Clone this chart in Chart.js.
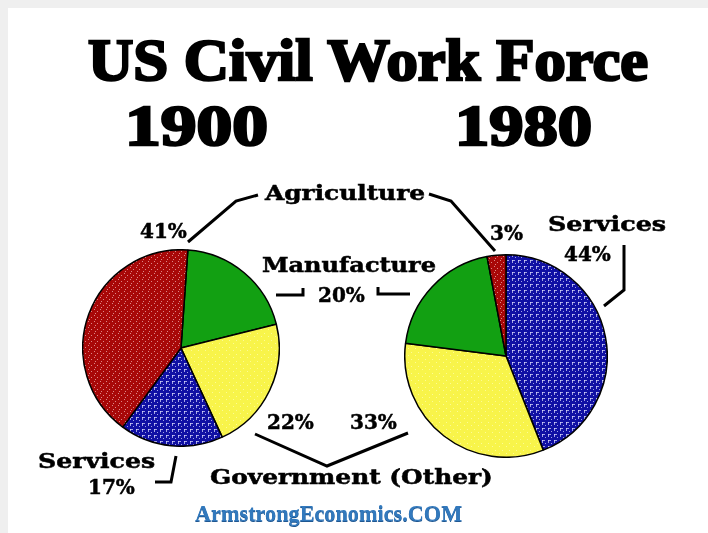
<!DOCTYPE html>
<html lang="en">
<head>
    <meta charset="UTF-8">
    <title>US Civil Work Force</title>
    <style>
        body {
            margin: 0;
            width: 708px;
            height: 533px;
            background-color: #efefef;
            position: relative;
            overflow: hidden;
        }

        #panel {
            position: absolute;
            left: 8px;
            top: 8px;
            right: 0;
            bottom: 0;
            background-color: #ffffff;
        }

        .txt {
            position: absolute;
            white-space: nowrap;
            line-height: 1;
            transform-origin: 0 0;
        }

        .big {
            font-family: "Liberation Serif", serif;
            font-weight: bold;
            color: #000;
            -webkit-text-stroke: 2.5px #000;
        }

        .lbl {
            font-family: "DejaVu Serif", serif;
            font-weight: bold;
            font-size: 20px;
            color: #000;
            -webkit-text-stroke: 0.5px #000;
        }

        canvas.pie {
            position: absolute;
        }

        #lines {
            position: absolute;
            left: 0;
            top: 0;
        }
    </style>
</head>
<body>
    <div id="panel"></div>

    <div class="txt big" id="title" style="left:88px; top:30px; font-size:60px;">US Civil Work Force</div>
    <div class="txt big" id="y1900" style="left:125px; top:98px; font-size:56px;">1900</div>
    <div class="txt big" id="y1980" style="left:455px; top:98px; font-size:56px;">1980</div>

    <canvas class="pie" id="pie1900" width="198" height="198" style="left:82px; top:249px;"></canvas>
    <canvas class="pie" id="pie1980" width="204" height="204" style="left:404px; top:254px;"></canvas>

    <svg id="lines" width="708" height="533">
        <g fill="none" stroke="#000" stroke-width="3" stroke-linejoin="miter">
            <polyline points="188,242 236,201 258,195" />
            <polyline points="429,194 451,201 495,251" />
            <polyline points="276,295 303,295 303,288" />
            <polyline points="378,287 378,294 410,294" />
            <polyline points="624,245 624,290 604,306" />
            <polyline points="255,434 327,466 408,433" />
            <polyline points="176,456 171,482 155,482" />
        </g>
    </svg>

    <div class="txt lbl" id="lAgri" style="left:265px; top:183px;">Agriculture</div>
    <div class="txt lbl" id="p41" style="left:140px; top:221px;">41%</div>
    <div class="txt lbl" id="lManu" style="left:262px; top:255px;">Manufacture</div>
    <div class="txt lbl" id="p20" style="left:318px; top:285px;">20%</div>
    <div class="txt lbl" id="p3" style="left:490px; top:223px;">3%</div>
    <div class="txt lbl" id="lServ2" style="left:548px; top:214px;">Services</div>
    <div class="txt lbl" id="p44" style="left:564px; top:244px;">44%</div>
    <div class="txt lbl" id="p22" style="left:267px; top:412px;">22%</div>
    <div class="txt lbl" id="p33" style="left:350px; top:412px;">33%</div>
    <div class="txt lbl" id="lGov" style="left:210px; top:467px;">Government (Other)</div>
    <div class="txt lbl" id="lServ1" style="left:38px; top:451px;">Services</div>
    <div class="txt lbl" id="p17" style="left:88px; top:477px;">17%</div>

    <div class="txt" id="brand" style="left:195px; top:501px; font-family:'Liberation Serif', serif; font-weight:bold; font-size:24px; color:#3279bd; text-shadow:0 1px 0 #1f5791;">ArmstrongEconomics.COM</div>

    <script src="https://cdn.jsdelivr.net/npm/chart.js"></script>
    <script>
        // data
        const categories1900 = ['Manufacture', 'Government (Other)', 'Services', 'Agriculture'];
        const values1900 = [20, 22, 17, 41];
        const categories1980 = ['Services', 'Government (Other)', 'Manufacture', 'Agriculture'];
        const values1980 = [44, 33, 20, 3];

        // stippled fills like the hand drawn original
        function makePattern(base, dots, dotColor, size) {
            const c = document.createElement('canvas');
            c.width = size;
            c.height = size;
            const g = c.getContext('2d');
            g.fillStyle = base;
            g.fillRect(0, 0, size, size);
            g.fillStyle = dotColor;
            dots.forEach(d => g.fillRect(d[0], d[1], d[2] || 1, d[3] || 1));
            return g.createPattern(c, 'repeat');
        }

        const fills = {
            'Agriculture': makePattern('#a80808', [[0, 0], [3, 2], [1, 4]], 'rgba(255,220,220,0.6)', 6),
            'Manufacture': '#12a012',
            'Government (Other)': makePattern('#f8f44a', [[0, 0], [4, 3]], 'rgba(255,255,200,0.6)', 7),
            'Services': makePattern('#1010a4', [[0, 0, 1, 3], [0, 0, 3, 1], [3, 3]], 'rgba(225,225,255,0.7)', 6)
        };

        function drawPie(id, labels, values, rotation) {
            const ctx = document.getElementById(id).getContext('2d');
            new Chart(ctx, {
                type: 'pie',
                data: {
                    labels: labels,
                    datasets: [{
                        data: values,
                        backgroundColor: labels.map(l => fills[l]),
                        borderColor: '#000',
                        borderWidth: 1.5
                    }]
                },
                options: {
                    responsive: false,
                    animation: false,
                    rotation: rotation,
                    events: [],
                    layout: { padding: 0 },
                    plugins: {
                        legend: { display: false },
                        tooltip: { enabled: false }
                    }
                }
            });
        }

        drawPie('pie1900', categories1900, values1900, 4);
        drawPie('pie1980', categories1980, values1980, 0);

        // squeeze the texts to the widths they have in the picture
        function fit(id, width) {
            const el = document.getElementById(id);
            el.style.transform = 'scaleX(' + (width / el.offsetWidth) + ')';
        }
        fit('title', 560);
        fit('y1900', 143);
        fit('y1980', 137);
        fit('brand', 267);
        fit('lAgri', 160);
        fit('lManu', 174);
        fit('lGov', 283);
        fit('lServ1', 117);
        fit('lServ2', 118);
    </script>
</body>
</html>
